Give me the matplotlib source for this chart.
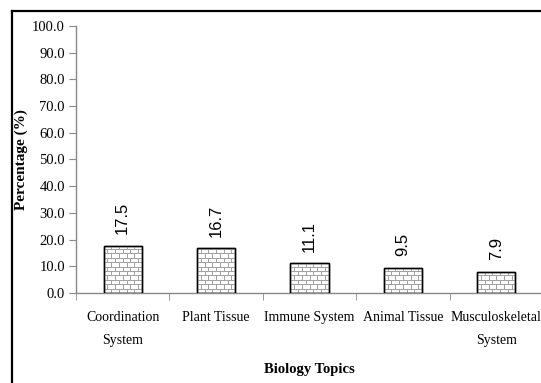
import numpy as np
import matplotlib
matplotlib.use("Agg")
import matplotlib.pyplot as plt
from matplotlib.lines import Line2D
from matplotlib.collections import LineCollection

# Survey results per biology topic
topics = ["Coordination\nSystem", "Plant Tissue", "Immune System",
          "Animal Tissue", "Musculoskeletal\nSystem"]
percent = [17.5, 16.7, 11.1, 9.5, 7.9]
yticks = np.arange(0, 101, 10)

plt.rcParams['font.family'] = ['Liberation Serif', 'DejaVu Serif']

fig = plt.figure(figsize=(5.41, 3.83), dpi=100)
ax = fig.add_axes([76 / 541, 90 / 383, 467 / 541, 267 / 383])

x = np.arange(len(topics))
bar_w = 0.41
bars = ax.bar(x, percent, width=bar_w, color='white', edgecolor='black',
              linewidth=1.0, zorder=3)

# brick fill inside each bar
row_h = 1.65
for b in bars:
    x0, w, h = b.get_x(), b.get_width(), b.get_height()
    brick_w = w / 5
    rows = np.arange(row_h, h, row_h)
    hl = ax.hlines(rows, x0, x0 + w, colors='#a0a0a0', linewidth=0.7, zorder=3.5)
    hl.set_clip_path(b)
    segs = []
    edges = np.concatenate([[0], rows, [h]])
    for i in range(len(edges) - 1):
        shift = 0 if i % 2 == 0 else brick_w / 2
        for xv in np.arange(x0 + shift, x0 + w, brick_w):
            segs.append([(xv, edges[i]), (xv, edges[i + 1])])
    lc = LineCollection(segs, colors='#a0a0a0', linewidth=0.7, zorder=3.5)
    lc.set_clip_path(b)
    ax.add_collection(lc)
    # redraw outline over the bricks
    ax.bar(b.get_x() + w / 2, h, width=w, fill=False, edgecolor='black',
           linewidth=1.0, zorder=4)

for xi, v in zip(x, percent):
    ax.annotate(f"{v:.1f}", (xi, v), xytext=(0, 8.5), textcoords='offset points',
                rotation=90, ha='center', va='bottom', fontsize=12,
                family='Liberation Sans', color='black')

ax.set_xlim(-0.5, len(topics) - 0.5)
ax.set_ylim(0, 100)
ax.set_yticks(yticks)
ax.set_yticklabels([f"{t:.1f}" for t in yticks], fontsize=10.5)
ax.set_xticks(x)
ax.set_xticklabels(topics, fontsize=10, linespacing=1.95)
ax.set_xticks(np.arange(-0.5, len(topics), 1), minor=True)
ax.tick_params(axis='x', which='major', length=0, pad=13)
ax.tick_params(axis='x', which='minor', length=5, color='#888888', direction='out')
ax.tick_params(axis='y', length=5, color='#888888', pad=3, direction='out')

for s in ['top', 'right']:
    ax.spines[s].set_visible(False)
for s in ['left', 'bottom']:
    ax.spines[s].set_color('#888888')
    ax.spines[s].set_linewidth(1.0)

ax.set_ylabel("Percentage (%)", fontsize=11, fontweight='bold')
ax.yaxis.set_label_coords(-48 / 467, 0.5)
ax.set_xlabel("Biology Topics", fontsize=10.5, fontweight='bold')
ax.xaxis.set_label_coords(0.5, -70 / 267)

# outer frame (top and left edges visible)
fig.add_artist(Line2D([12 / 541, 1.0], [1 - 11 / 383, 1 - 11 / 383],
                      color='black', linewidth=1.6, transform=fig.transFigure))
fig.add_artist(Line2D([12 / 541, 12 / 541], [0, 1 - 11 / 383],
                      color='black', linewidth=1.6, transform=fig.transFigure))

fig.savefig("out.png", dpi=100)
